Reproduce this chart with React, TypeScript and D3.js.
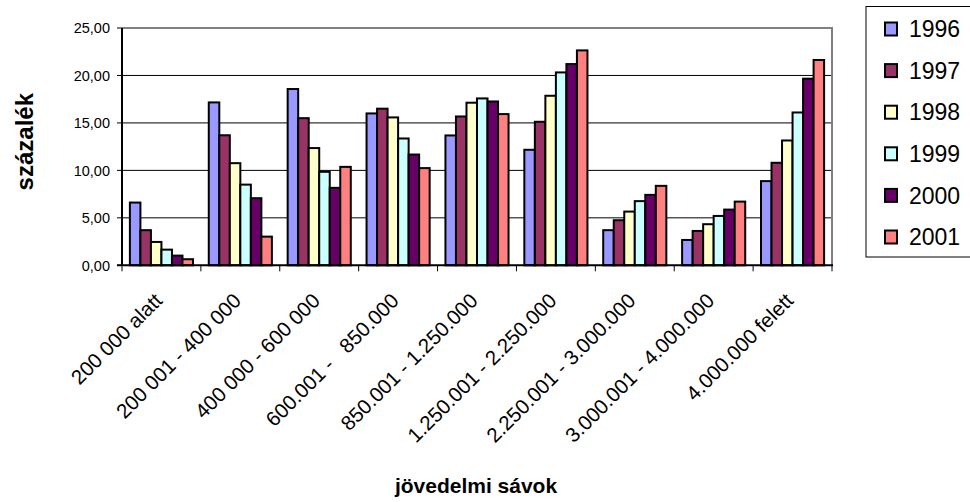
import React from "react";
import * as d3 from "d3";

const categories = [
  "200 000 alatt",
  "200 001 - 400 000",
  "400 000 - 600 000",
  "600.001 -   850.000",
  "850.001 - 1.250.000",
  "1.250.001 - 2.250.000",
  "2.250.001 - 3.000.000",
  "3.000.001 - 4.000.000",
  "4.000.000 felett",
];

const years = ["1996", "1997", "1998", "1999", "2000", "2001"];

const s1996 = [6.61, 17.16, 18.57, 16.0, 13.68, 12.17, 3.7, 2.67, 8.87];
const s1997 = [3.7, 13.7, 15.5, 16.5, 15.68, 15.12, 4.75, 3.62, 10.8];
const s1998 = [2.46, 10.76, 12.35, 15.58, 17.13, 17.86, 5.66, 4.33, 13.15];
const s1999 = [1.65, 8.5, 9.85, 13.36, 17.58, 20.32, 6.76, 5.2, 16.1];
const s2000 = [1.02, 7.07, 8.16, 11.67, 17.26, 21.2, 7.42, 5.87, 19.66];
const s2001 = [0.64, 3.02, 10.37, 10.24, 15.93, 22.64, 8.37, 6.71, 21.63];

const series = [s1996, s1997, s1998, s1999, s2000, s2001];
const colors = ["#9999FF", "#993366", "#FFFFCC", "#CCFFFF", "#660066", "#FF8080"];

const yTicks = [0, 5, 10, 15, 20, 25];

const W = 970;
const H = 502;
const left = 122;
const right = 832;
const top = 28;
const bottom = 265.3;

export default function App() {
  const x0 = d3.scaleBand<string>().domain(categories).range([left, right]).paddingInner(0).paddingOuter(0);
  const x1 = d3
    .scaleBand<string>()
    .domain(years)
    .range([0, x0.bandwidth()])
    .paddingInner(0)
    .paddingOuter(0.75);
  const y = d3.scaleLinear().domain([0, 25]).range([bottom, top]);
  const fmt = (v: number) => v.toFixed(2).replace(".", ",");
  const font = "'Liberation Sans', Arial, sans-serif";

  return (
    <svg
      width={W}
      height={H}
      style={{ position: "absolute", left: 0, top: 0, display: "block", background: "#fff" }}
      fontFamily={font}
    >
      <rect x={0} y={0} width={W} height={H} fill="#fff" />
      {/* gridlines */}
      {yTicks.slice(1, -1).map((t) => (
        <line key={t} x1={left} x2={right} y1={y(t)} y2={y(t)} stroke="#000" strokeWidth={1} />
      ))}
      {/* plot border top/right gray */}
      <line x1={left} x2={right + 1} y1={top} y2={top} stroke="#808080" strokeWidth={2} />
      <line x1={right} x2={right} y1={top} y2={bottom} stroke="#808080" strokeWidth={2} />
      {/* bars */}
      {categories.map((c, ci) => (
        <g key={c} transform={`translate(${x0(c)},0)`}>
          {years.map((yr, si) => {
            const v = series[si][ci];
            return (
              <rect
                key={yr}
                x={x1(yr)}
                y={y(v)}
                width={x1.bandwidth()}
                height={y(0) - y(v)}
                fill={colors[si]}
                stroke="#000"
                strokeWidth={2}
              />
            );
          })}
        </g>
      ))}
      {/* axes */}
      <line x1={left} x2={left} y1={top} y2={bottom + 0.5} stroke="#000" strokeWidth={2} />
      <line x1={left - 5} x2={right + 1} y1={bottom} y2={bottom} stroke="#000" strokeWidth={2} />
      {yTicks.map((t) => (
        <g key={t}>
          <line x1={left - 5} x2={left} y1={y(t)} y2={y(t)} stroke="#000" strokeWidth={1} />
          <text x={110} y={y(t)} dy="0.36em" textAnchor="end" fontSize={14.5} fill="#000">
            {fmt(t)}
          </text>
        </g>
      ))}
      {categories.map((c, i) => (
        <line
          key={"t" + i}
          x1={x0(c)!}
          x2={x0(c)!}
          y1={bottom}
          y2={bottom + 6}
          stroke="#000"
          strokeWidth={1}
        />
      ))}
      <line x1={right} x2={right} y1={bottom} y2={bottom + 6} stroke="#000" strokeWidth={1} />
      {categories.map((c) => {
        const cx = x0(c)! + x0.bandwidth() / 2 + 2;
        return (
          <text
            key={"l" + c}
            transform={`translate(${cx},302) rotate(-45)`}
            textAnchor="end"
            fontSize={20.5}
            fill="#000"
            style={{ whiteSpace: "pre" }}
          >
            {c}
          </text>
        );
      })}
      {/* axis titles */}
      <text
        transform={`translate(33,141.7) rotate(-90)`}
        textAnchor="middle"
        fontSize={24}
        fontWeight="bold"
        fill="#000"
      >
        százalék
      </text>
      <text x={476} y={493} textAnchor="middle" fontSize={21} fontWeight="bold" fill="#000">
        jövedelmi sávok
      </text>
      {/* legend */}
      <rect x={866} y={6.5} width={120} height={250.5} fill="#fff" stroke="#000" strokeWidth={1} />
      {years.map((yr, i) => {
        const cy = 29 + i * 41.6;
        return (
          <g key={"lg" + yr}>
            <rect x={885} y={cy - 6.5} width={12} height={13} fill={colors[i]} stroke="#000" strokeWidth={2} />
            <text x={909} y={cy} dy="0.36em" fontSize={23} fill="#000">
              {yr}
            </text>
          </g>
        );
      })}
    </svg>
  );
}
